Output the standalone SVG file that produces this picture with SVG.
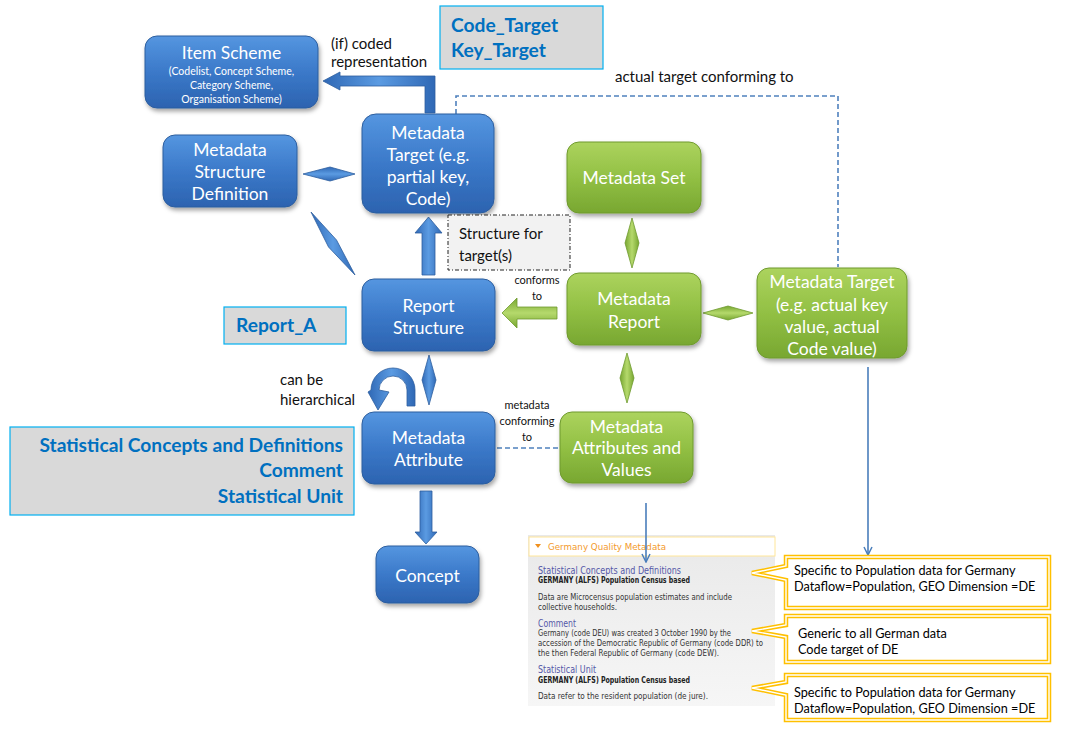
<svg xmlns="http://www.w3.org/2000/svg" width="1066" height="735" viewBox="0 0 1066 735">
<defs>
<linearGradient id="gBlue" x1="0" y1="0" x2="0" y2="1">
<stop offset="0" stop-color="#5596e0"/><stop offset="0.5" stop-color="#3b79c9"/><stop offset="1" stop-color="#2c63b0"/>
</linearGradient>
<linearGradient id="gGreen" x1="0" y1="0" x2="0" y2="1">
<stop offset="0" stop-color="#acd35e"/><stop offset="0.5" stop-color="#92c044"/><stop offset="1" stop-color="#78a731"/>
</linearGradient>
<linearGradient id="gBlueH" x1="0" y1="0" x2="1" y2="0">
<stop offset="0" stop-color="#2f68b5"/><stop offset="0.5" stop-color="#5b9be2"/><stop offset="1" stop-color="#2f68b5"/>
</linearGradient>
<linearGradient id="gBlueV" x1="0" y1="0" x2="0" y2="1">
<stop offset="0" stop-color="#2f68b5"/><stop offset="0.5" stop-color="#5b9be2"/><stop offset="1" stop-color="#2f68b5"/>
</linearGradient>
<linearGradient id="gGreenV" x1="0" y1="0" x2="0" y2="1">
<stop offset="0" stop-color="#78a731"/><stop offset="0.5" stop-color="#b5d96c"/><stop offset="1" stop-color="#78a731"/>
</linearGradient>
<linearGradient id="gGreenH" x1="0" y1="0" x2="1" y2="0">
<stop offset="0" stop-color="#78a731"/><stop offset="0.5" stop-color="#b5d96c"/><stop offset="1" stop-color="#78a731"/>
</linearGradient>
<linearGradient id="gPanel" x1="0" y1="0" x2="0" y2="1">
<stop offset="0" stop-color="#e9e9e9"/><stop offset="1" stop-color="#f6f6f6"/>
</linearGradient>
<filter id="sh" x="-10%" y="-10%" width="130%" height="140%">
<feDropShadow dx="1.5" dy="3" stdDeviation="2" flood-color="#000" flood-opacity="0.35"/>
</filter>
<marker id="ah" viewBox="0 0 10 10" refX="9" refY="5" markerWidth="10" markerHeight="10" markerUnits="userSpaceOnUse" orient="auto">
<path d="M1,1 L9,5 L1,9" fill="none" stroke="#4a7ebb" stroke-width="1.5"/>
</marker>
</defs>
<style>
.nb{fill:url(#gBlue);stroke:#2d5e9e;stroke-width:1;filter:url(#sh)}
.ng{fill:url(#gGreen);stroke:#6f9a2e;stroke-width:1;filter:url(#sh)}
.nt{font-family:Lato,"Open Sans",sans-serif;font-size:17.5px;fill:#fff;text-anchor:middle}
.ns{font-family:Lato,"Open Sans",sans-serif;font-size:10.5px;fill:#fff;text-anchor:middle}
.lb{font-family:Lato,"Open Sans",sans-serif;font-size:15px;fill:#111}
.sm{font-family:Lato,"Open Sans",sans-serif;font-size:11px;fill:#111;text-anchor:middle}
.gb{fill:#d9d9d9;stroke:#00b0f0;stroke-width:1.2}
.gt{font-family:Lato,"Open Sans",sans-serif;font-size:19.2px;font-weight:bold;fill:#0070c0}
.ba{fill:url(#gBlueH);stroke:#2d5e9e;stroke-width:0.8}
.bv{fill:url(#gBlueV);stroke:#2d5e9e;stroke-width:0.8}
.ga{fill:url(#gGreenV);stroke:#6f9a2e;stroke-width:0.8}
.gh{fill:url(#gGreenH);stroke:#6f9a2e;stroke-width:0.8}
.dl{fill:none;stroke:#4f81bd;stroke-width:1.6;stroke-dasharray:5 3}
.tl{fill:none;stroke:#4a7ebb;stroke-width:1.6;marker-end:url(#ah)}
.co{fill:#fff;stroke:#ffc000;stroke-width:4.5;stroke-linejoin:miter}
.ci{fill:none;stroke:#fff;stroke-width:1.4;stroke-linejoin:miter}
.ct{font-family:Lato,"Open Sans",sans-serif;font-size:12.7px;fill:#000}
.sp{font-family:"DejaVu Sans",Verdana,sans-serif;font-size:8px;fill:#333}
.sh{font-family:"DejaVu Sans",Verdana,sans-serif;font-size:10px;fill:#5558a8}
.sb{font-family:"DejaVu Sans",Verdana,sans-serif;font-size:8px;font-weight:bold;fill:#222}
</style>
<rect width="1066" height="735" fill="#fff"/>

<g id="screenshot">
<rect x="528" y="535" width="247" height="171" fill="url(#gPanel)"/>
<rect x="529" y="537" width="246" height="19" fill="#fff" stroke="#ffe699" stroke-width="1"/>
<polygon points="535,544 541,544 538,548" fill="#f0901e"/>
<text x="548" y="550" font-family="DejaVu Sans,Verdana,sans-serif" font-size="9px" fill="#f39a2c" textLength="118" lengthAdjust="spacingAndGlyphs">Germany Quality Metadata</text>
<text class="sh" x="538" y="574" textLength="143" lengthAdjust="spacingAndGlyphs">Statistical Concepts and Definitions</text>
<text class="sb" x="538" y="583" textLength="152" lengthAdjust="spacingAndGlyphs">GERMANY (ALFS) Population Census based</text>
<text class="sp" x="538" y="600" textLength="194" lengthAdjust="spacingAndGlyphs">Data are Microcensus population estimates and include</text>
<text class="sp" x="538" y="610" textLength="79" lengthAdjust="spacingAndGlyphs">collective households.</text>
<text class="sh" x="538" y="627" textLength="38" lengthAdjust="spacingAndGlyphs">Comment</text>
<text class="sp" x="538" y="636" textLength="193" lengthAdjust="spacingAndGlyphs">Germany (code DEU) was created 3 October 1990 by the</text>
<text class="sp" x="538" y="646" textLength="225" lengthAdjust="spacingAndGlyphs">accession of the Democratic Republic of Germany (code DDR) to</text>
<text class="sp" x="538" y="656" textLength="181" lengthAdjust="spacingAndGlyphs">the then Federal Republic of Germany (code DEW).</text>
<text class="sh" x="538" y="673" textLength="58" lengthAdjust="spacingAndGlyphs">Statistical Unit</text>
<text class="sb" x="538" y="683" textLength="152" lengthAdjust="spacingAndGlyphs">GERMANY (ALFS) Population Census based</text>
<text class="sp" x="538" y="699" textLength="170" lengthAdjust="spacingAndGlyphs">Data refer to the resident population (de jure).</text>
</g>

<g id="connectors">
<polygon class="ba" points="435,113 435,76 340,76 340,72 323,81 340,90 340,86 425,86 425,113"/>
<polyline class="dl" points="456,114 456,96 838,96 838,267"/>
<polygon class="bv" points="303,174 330,167 355,174 330,181"/>
<polygon class="ba" points="311,212 336.5,240 355,275 328.5,247"/>
<polygon class="ba" points="422,275 422,233 415,233 428.5,217 442,233 435,233 435,275"/>
<polygon class="ga" points="557,307 517,307 517,298 502,313 517,328 517,319 557,319"/>
<polygon class="gh" points="632,218 639,243 632,268 625,243"/>
<polygon class="ga" points="703,313 728,306 753,313 728,320"/>
<polygon class="gh" points="627,353 634,378 627,403 620,378"/>
<polygon class="ba" points="429,355 436,380 429,405 422,380"/>
<path class="ba" d="M415,406 L415,390 A22,22 0 0 0 371,390 L368,392 L378,410 L389,392 L379,390 A14,14 0 0 1 407,390 L407,406 Z"/>
<line class="dl" x1="497" y1="448" x2="560" y2="448"/>
<polygon class="ba" points="420,491 432,491 432,532 437,532 426,544 415,532 420,532"/>
<line class="tl" x1="868" y1="367" x2="868" y2="555"/>
<line class="tl" x1="646" y1="503" x2="646" y2="562"/>
</g>

<g id="label-coded">
<text class="lb" x="331" y="49">(if) coded</text>
<text class="lb" x="331" y="67">representation</text>
</g>
<g id="label-actual"><text class="lb" x="615" y="82" font-size="14.5">actual target conforming to</text></g>
<g id="label-conforms">
<text class="sm" x="537" y="284">conforms</text>
<text class="sm" x="537" y="300">to</text>
</g>
<g id="label-hier">
<text class="lb" x="280" y="385">can be</text>
<text class="lb" x="280" y="405">hierarchical</text>
</g>
<g id="label-metadata-conf">
<text class="sm" x="527" y="409">metadata</text>
<text class="sm" x="527" y="425">conforming</text>
<text class="sm" x="527" y="441">to</text>
</g>

<g id="item-scheme">
<rect class="nb" x="145" y="36" width="173" height="72" rx="12"/>
<text class="nt" x="231.5" y="59">Item Scheme</text>
<text class="ns" x="231.5" y="75">(Codelist, Concept Scheme,</text>
<text class="ns" x="231.5" y="89">Category Scheme,</text>
<text class="ns" x="231.5" y="103">Organisation Scheme)</text>
</g>
<g id="msd">
<rect class="nb" x="163" y="135" width="134" height="72" rx="12"/>
<text class="nt" x="230" y="156">Metadata</text>
<text class="nt" x="230" y="178">Structure</text>
<text class="nt" x="230" y="200">Definition</text>
</g>
<g id="metadata-target">
<rect class="nb" x="362" y="114" width="132" height="99" rx="14"/>
<text class="nt" x="428" y="139">Metadata</text>
<text class="nt" x="428" y="161">Target (e.g.</text>
<text class="nt" x="428" y="183">partial key,</text>
<text class="nt" x="428" y="205">Code)</text>
</g>
<g id="report-structure">
<rect class="nb" x="362" y="279" width="133" height="72" rx="12"/>
<text class="nt" x="428.5" y="312">Report</text>
<text class="nt" x="428.5" y="334">Structure</text>
</g>
<g id="metadata-attribute">
<rect class="nb" x="362" y="412" width="133" height="72" rx="12"/>
<text class="nt" x="428.5" y="444">Metadata</text>
<text class="nt" x="428.5" y="466">Attribute</text>
</g>
<g id="concept">
<rect class="nb" x="376" y="546" width="103" height="57" rx="12"/>
<text class="nt" x="427.5" y="582">Concept</text>
</g>
<g id="metadata-set">
<rect class="ng" x="567" y="142" width="134" height="71" rx="12"/>
<text class="nt" x="634" y="184">Metadata Set</text>
</g>
<g id="metadata-report">
<rect class="ng" x="567" y="273" width="134" height="72" rx="12"/>
<text class="nt" x="634" y="305">Metadata</text>
<text class="nt" x="634" y="328">Report</text>
</g>
<g id="metadata-target-actual">
<rect class="ng" x="757" y="268" width="150" height="90" rx="12"/>
<text class="nt" x="832" y="288">Metadata Target</text>
<text class="nt" x="832" y="311">(e.g. actual key</text>
<text class="nt" x="832" y="333">value, actual</text>
<text class="nt" x="832" y="355">Code value)</text>
</g>
<g id="metadata-attributes-values">
<rect class="ng" x="560" y="412" width="133" height="71" rx="12"/>
<text class="nt" x="626.5" y="433">Metadata</text>
<text class="nt" x="626.5" y="454">Attributes and</text>
<text class="nt" x="626.5" y="476">Values</text>
</g>

<g id="structure-for-targets">
<rect x="448" y="215" width="122" height="55" fill="#f2f2f2" stroke="#222" stroke-width="1" stroke-dasharray="4 2 1 2"/>
<text class="lb" x="459" y="239" font-size="16">Structure for</text>
<text class="lb" x="459" y="261" font-size="16">target(s)</text>
</g>

<g id="code-target">
<rect class="gb" x="440" y="6" width="163" height="63"/>
<text class="gt" x="451" y="32">Code_Target</text>
<text class="gt" x="451" y="57">Key_Target</text>
</g>
<g id="report-a">
<rect class="gb" x="224" y="307" width="122" height="37"/>
<text class="gt" x="236" y="332">Report_A</text>
</g>
<g id="stat-box">
<rect class="gb" x="10" y="427" width="344" height="88"/>
<text class="gt" x="343" y="452" text-anchor="end">Statistical Concepts and Definitions</text>
<text class="gt" x="343" y="477" text-anchor="end">Comment</text>
<text class="gt" x="343" y="503" text-anchor="end">Statistical Unit</text>
</g>

<g id="callout-1">
<path class="co" d="M786,557 L1049,557 L1049,608 L786,608 L786,580 L752,573 L786,566 Z"/>
<path class="ci" d="M786,557 L1049,557 L1049,608 L786,608 L786,580 L752,573 L786,566 Z"/>
<text class="ct" x="794" y="575">Specific to Population data for Germany</text>
<text class="ct" x="794" y="591">Dataflow=Population, GEO Dimension =DE</text>
</g>
<g id="callout-2">
<path class="co" d="M786,616 L1049,616 L1049,662 L786,662 L786,637 L752,631 L786,625 Z"/>
<path class="ci" d="M786,616 L1049,616 L1049,662 L786,662 L786,637 L752,631 L786,625 Z"/>
<text class="ct" x="798" y="638">Generic to all German data</text>
<text class="ct" x="798" y="654">Code target of DE</text>
</g>
<g id="callout-3">
<path class="co" d="M786,675 L1049,675 L1049,720 L786,720 L786,695 L752,688 L786,682 Z"/>
<path class="ci" d="M786,675 L1049,675 L1049,720 L786,720 L786,695 L752,688 L786,682 Z"/>
<text class="ct" x="794" y="697">Specific to Population data for Germany</text>
<text class="ct" x="794" y="713">Dataflow=Population, GEO Dimension =DE</text>
</g>
</svg>
